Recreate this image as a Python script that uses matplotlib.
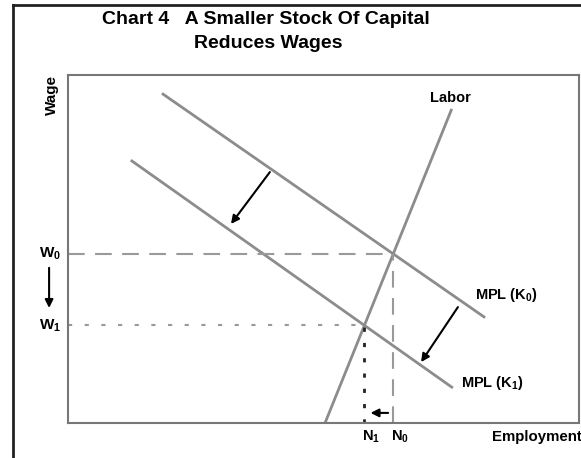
import numpy as np
import matplotlib
matplotlib.use("Agg")
from matplotlib import pyplot as plt
from matplotlib.lines import Line2D

plt.rcParams['font.family'] = ['Liberation Sans', 'DejaVu Sans']
plt.rcParams['font.weight'] = 'bold'
plt.rcParams['mathtext.fontset'] = 'custom'
plt.rcParams['mathtext.rm'] = 'Liberation Sans:bold'
plt.rcParams['mathtext.it'] = 'Liberation Sans:bold'
plt.rcParams['mathtext.bf'] = 'Liberation Sans:bold'

# curve end points (employment, wage) on a 0-100 scale
mpl_k0_x = [18.6, 81.4]
mpl_k0_y = [94.5, 30.5]
mpl_k1_x = [12.5, 75.1]
mpl_k1_y = [75.3, 10.3]
labor_x = [75.0, 50.3]
labor_y = [89.9, 0.0]

# shift arrows (start, end)
shift_k_1 = [(39.5, 72.1), (31.9, 57.2)]
shift_k_2 = [(76.3, 33.3), (69.1, 17.5)]


def cross(ax_, ay_, bx_, by_):
    # intersection of two straight lines given by end points
    m1 = (ay_[1] - ay_[0]) / (ax_[1] - ax_[0])
    m2 = (by_[1] - by_[0]) / (bx_[1] - bx_[0])
    x = (by_[0] - ay_[0] + m1 * ax_[0] - m2 * bx_[0]) / (m1 - m2)
    return x, ay_[0] + m1 * (x - ax_[0])


n0, w0 = cross(mpl_k0_x, mpl_k0_y, labor_x, labor_y)
n1, w1 = cross(mpl_k1_x, mpl_k1_y, labor_x, labor_y)

W, H = 581, 458
fig = plt.figure(figsize=(W / 100, H / 100), dpi=100)
fig.patch.set_facecolor('white')

# outer frame (left and top only visible)
fig.add_artist(Line2D([13 / W, 13 / W], [0, 1 - 5 / H], color='#222222', lw=2))
fig.add_artist(Line2D([13 / W, 1], [1 - 5 / H, 1 - 5 / H], color='#222222', lw=2))

fig.text(266 / W, 1 - 19 / H, 'Chart 4   A Smaller Stock Of Capital', ha='center', va='center',
         fontsize=14, fontweight='bold')
fig.text(268 / W, 1 - 43 / H, 'Reduces Wages', ha='center', va='center',
         fontsize=14, fontweight='bold')

ax = fig.add_axes([68 / W, 35 / H, 511 / W, 348 / H])
ax.set_xlim(0, 100)
ax.set_ylim(0, 100)
ax.set_xticks([]), ax.set_yticks([])
for s in ax.spines.values():
    s.set_color('#777777')
    s.set_linewidth(1.5)

grey = '#8c8c8c'
ax.plot(mpl_k0_x, mpl_k0_y, color=grey, lw=2)
ax.plot(mpl_k1_x, mpl_k1_y, color=grey, lw=2)
ax.plot(labor_x, labor_y, color=grey, lw=2)

ax.plot([0, n0], [w0, w0], color='#999999', lw=1.5, dashes=(8, 5))
ax.plot([n0, n0], [0, w0], color='#999999', lw=1.5, dashes=(8, 5))
ax.plot([0, n1], [w1, w1], color='#999999', lw=1.5, dashes=(2, 6))
ax.plot([n1, n1], [0, w1], color='#222222', lw=2, dashes=(1.5, 4))

arrow = dict(arrowstyle='-|>', color='black', lw=1.5, mutation_scale=12, shrinkA=0, shrinkB=0)
for a in (shift_k_1, shift_k_2):
    ax.annotate('', xy=a[1], xytext=a[0], arrowprops=arrow)
ax.annotate('', xy=(n1 + 1.2, 2.9), xytext=(n0 - 1.0, 2.9), arrowprops=arrow)
ax.annotate('', xy=(-3.7, w1 + 5), xytext=(-3.7, w0 - 4), arrowprops=arrow,
            annotation_clip=False)

ax.text(74.8, 93.4, 'Labor', ha='center', va='center', fontsize=10.5)
ax.text(79.6, 36.8, r'MPL (K$_0$)', ha='left', va='center', fontsize=10.5)
ax.text(76.9, 11.5, r'MPL (K$_1$)', ha='left', va='center', fontsize=10.5)
ax.text(n1 + 1.3, -4.0, r'N$_1$', ha='center', va='center', fontsize=10.5, clip_on=False)
ax.text(n0 + 1.3, -4.0, r'N$_0$', ha='center', va='center', fontsize=10.5, clip_on=False)
ax.text(100.6, -4.0, 'Employment', ha='right', va='center', fontsize=10.8, clip_on=False)
ax.text(-3.5, w0, r'W$_0$', ha='center', va='center', fontsize=11, clip_on=False)
ax.text(-3.5, w1, r'W$_1$', ha='center', va='center', fontsize=11, clip_on=False)
ax.text(-3.1, 94.3, 'Wage', ha='center', va='center', rotation=90, fontsize=11, clip_on=False)

plt.savefig('out.png', dpi=100)
